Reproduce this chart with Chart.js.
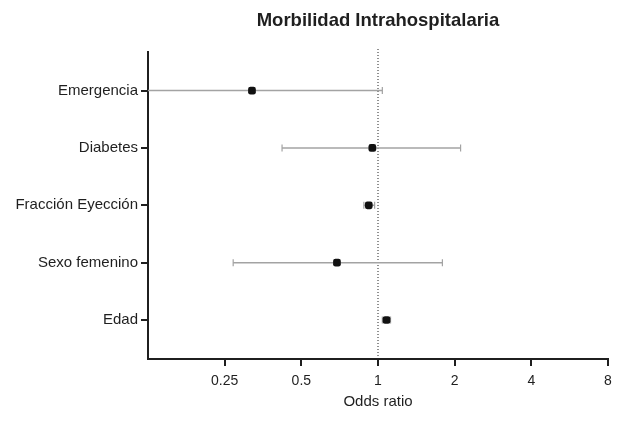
<!DOCTYPE html>
<html>
<head>
<meta charset="utf-8">
<script src="https://cdn.jsdelivr.net/npm/chart.js@4"></script>
<style>
html,body{margin:0;padding:0;background:#fff;}
#c{display:block;}
</style>
</head>
<body>
<canvas id="c" width="617" height="432"></canvas>
<script>
// ---- data ----
const categories = ['Emergencia', 'Diabetes', 'Fracción Eyección', 'Sexo femenino', 'Edad'];
const oddsRatio  = [0.32, 0.95, 0.92, 0.69, 1.08];
const ciLower    = [0.10, 0.42, 0.88, 0.27, 1.04];
const ciUpper    = [1.04, 2.11, 0.97, 1.79, 1.12];
const xTickValues = [0.25, 0.5, 1, 2, 4, 8];
const chartTitle = 'Morbilidad Intrahospitalaria';
const xTitle = 'Odds ratio';

const n = categories.length;
const rowY = i => n - i;  // top row first
const FONT = "'Liberation Sans', Arial, Helvetica, sans-serif";
const INK = '#1f1f1f';

const datasets = [];
// points (first => drawn on top)
datasets.push({
  type: 'scatter',
  data: oddsRatio.map((v, i) => ({x: v, y: rowY(i)})),
  pointStyle: 'rectRounded',
  pointRadius: 4.5,
  backgroundColor: '#111',
  borderColor: '#111',
  borderWidth: 0
});
// confidence intervals
categories.forEach((c, i) => {
  datasets.push({
    type: 'line',
    data: [{x: ciLower[i], y: rowY(i)}, {x: ciUpper[i], y: rowY(i)}],
    borderColor: '#a3a3a3',
    borderWidth: 1.5,
    pointStyle: 'line',
    pointRotation: 90,
    pointRadius: 3.5,
    pointBorderColor: '#a3a3a3',
    pointBorderWidth: 1.2,
    fill: false
  });
});
// reference line at OR = 1
datasets.push({
  type: 'line',
  data: [{x: 1, y: 0.32}, {x: 1, y: 5.74}],
  borderColor: '#222',
  borderWidth: 1,
  borderDash: [1, 2],
  pointRadius: 0,
  fill: false,
  clip: 4
});

new Chart(document.getElementById('c'), {
  type: 'scatter',
  data: { datasets },
  options: {
    responsive: false,
    animation: false,
    layout: { padding: { left: 0, right: 9, top: 0, bottom: 0 } },
    plugins: {
      legend: { display: false },
      tooltip: { enabled: false },
      title: {
        display: true,
        text: chartTitle,
        fullSize: false,
        color: INK,
        font: { family: FONT, size: 18.5, weight: 'bold' },
        padding: { top: 10, bottom: 19.4 }
      }
    },
    scales: {
      x: {
        type: 'logarithmic',
        min: 0.125,
        max: 8,
        afterBuildTicks: s => { s.ticks = xTickValues.map(v => ({value: v})); },
        afterFit: s => { s.height = 73; s.paddingRight = 0; s.paddingLeft = 0; },
        ticks: {
          autoSkip: false,
          maxRotation: 0,
          padding: 7,
          color: INK,
          font: { family: FONT, size: 14 },
          callback: v => String(v)
        },
        grid: { display: true, drawOnChartArea: false, drawTicks: true, tickLength: 7, color: INK, lineWidth: 2 },
        border: { display: true, color: INK, width: 2 },
        title: {
          display: true,
          text: xTitle,
          color: INK,
          font: { family: FONT, size: 15 },
          padding: { top: 0, bottom: 21 }
        }
      },
      y: {
        type: 'linear',
        min: 0.32,
        max: 5.68,
        afterBuildTicks: s => { s.ticks = categories.map((c, i) => ({value: rowY(i)})); },
        afterFit: s => { s.width = 148; },
        ticks: {
          autoSkip: false,
          padding: 3,
          color: INK,
          font: { family: FONT, size: 15 },
          callback: v => categories[n - v]
        },
        grid: { display: true, drawOnChartArea: false, drawTicks: true, tickLength: 7, color: INK, lineWidth: 2 },
        border: { display: true, color: INK, width: 2 }
      }
    }
  }
});
</script>
</body>
</html>
